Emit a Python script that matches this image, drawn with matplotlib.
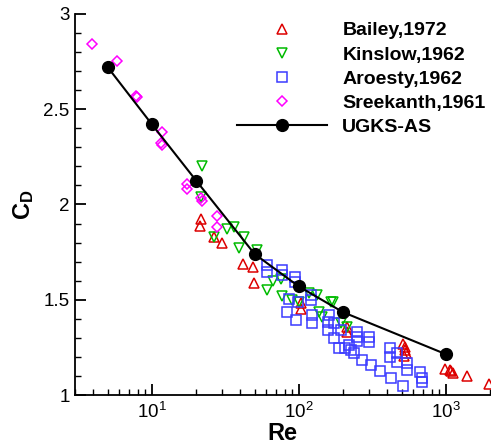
import numpy as np
import matplotlib
matplotlib.use("Agg")
import matplotlib.pyplot as plt
from matplotlib.ticker import LogLocator, MultipleLocator, FormatStrFormatter

plt.rcParams['font.family'] = ['Liberation Sans', 'DejaVu Sans']
plt.rcParams['mathtext.fontset'] = 'custom'
plt.rcParams['mathtext.rm'] = 'Liberation Sans'
plt.rcParams['mathtext.bf'] = 'Liberation Sans:bold'

# ------------------------
# Data
# ------------------------
bailey_re = [21.6, 21.3, 26.3, 30.0, 41.8, 49.0, 49.7, 104, 104, 211, 214,
             515, 525, 530, 533, 520, 984, 1064, 1116, 1090, 1390, 1963]
bailey_cd = [1.925, 1.885, 1.83, 1.80, 1.69, 1.67, 1.59, 1.485, 1.45, 1.36, 1.33,
             1.27, 1.25, 1.235, 1.22, 1.205, 1.135, 1.13, 1.115, 1.125, 1.10, 1.06]

kinslow_re = [21.9, 21.6, 26.5, 32.5, 36.3, 42.5, 39.3, 52.1, 67.0, 61.0, 76.0,
              77.1, 90.3, 100.7, 118, 133.7, 138, 143, 166, 170, 211, 195]
kinslow_cd = [2.20, 2.04, 1.83, 1.87, 1.88, 1.83, 1.77, 1.76, 1.60, 1.55, 1.61,
              1.52, 1.50, 1.49, 1.535, 1.525, 1.435, 1.41, 1.49, 1.49, 1.36, 1.38]

aroesty_re = [61.0, 61.0, 77.1, 77.1, 94.7, 94.7, 86.0, 83.6, 96.2, 97.9, 121.6,
              121.6, 123.6, 123.6, 161.6, 156.7, 174.6, 156.7, 174.6, 194.9, 188.8,
              204.8, 221, 228, 239, 247, 250, 250, 271, 302, 302, 312, 354, 415,
              415, 463, 463, 427, 509, 542, 542, 665, 687, 687]
aroesty_cd = [1.682, 1.646, 1.656, 1.630, 1.619, 1.593, 1.504, 1.436, 1.394, 1.488, 1.525,
              1.499, 1.420, 1.378, 1.420, 1.383, 1.378, 1.341, 1.299, 1.341, 1.247,
              1.247, 1.262, 1.236, 1.220, 1.331, 1.304, 1.283, 1.184, 1.304, 1.278, 1.157, 1.126, 1.247,
              1.199, 1.220, 1.173, 1.089, 1.047, 1.168, 1.131, 1.121, 1.089, 1.068]

sreekanth_re = [3.9, 5.8, 7.8, 7.9, 11.7, 11.6, 11.7, 17.3, 17.3, 21.6, 21.8, 27.6, 27.6]
sreekanth_cd = [2.84, 2.75, 2.57, 2.565, 2.38, 2.32, 2.31, 2.11, 2.08, 2.035, 2.02, 1.94, 1.88]

ugks_re = [5, 10, 20, 50, 100, 200, 1000]
ugks_cd = [2.72, 2.42, 2.125, 1.74, 1.57, 1.435, 1.215]

# ------------------------
# Plot
# ------------------------
fig = plt.figure(figsize=(4.91, 4.46), dpi=100)
ax = fig.add_axes([0.153, 0.114, 0.845, 0.855])

ms_kw = dict(linestyle='none', markerfacecolor='none', markeredgewidth=1.1)
ax.plot(bailey_re, bailey_cd, marker='^', markersize=7, markeredgecolor='#dd0000',
        label='Bailey,1972', **ms_kw)
ax.plot(kinslow_re, kinslow_cd, marker='v', markersize=7, markeredgecolor='#00bb00',
        label='Kinslow,1962', **ms_kw)
ax.plot(aroesty_re, aroesty_cd, marker='s', markersize=6.5, markeredgecolor='#3b3bff',
        label='Aroesty,1962', **ms_kw)
ax.plot(sreekanth_re, sreekanth_cd, marker='D', markersize=5.5, markeredgecolor='#ff00ff',
        label='Sreekanth,1961', **ms_kw)
ax.plot(ugks_re, ugks_cd, color='black', linewidth=1.5, marker='o', markersize=8.5,
        label='UGKS-AS')

ax.set_xscale('log')
ax.set_xlim(3, 2000)
ax.set_ylim(1, 3)

ax.spines['top'].set_visible(False)
ax.spines['right'].set_visible(False)
ax.spines['left'].set_linewidth(1.3)
ax.spines['bottom'].set_linewidth(1.3)

ax.yaxis.set_major_locator(MultipleLocator(0.5))
ax.yaxis.set_minor_locator(MultipleLocator(0.1))
ax.yaxis.set_major_formatter(FormatStrFormatter('%g'))
ax.xaxis.set_major_locator(LogLocator(base=10))
ax.xaxis.set_minor_locator(LogLocator(base=10, subs=np.arange(2, 10)))

ax.tick_params(which='major', direction='in', length=8, width=1.3, labelsize=13.5)
ax.tick_params(axis='y', which='major', pad=4)
ax.tick_params(axis='x', which='major', pad=5)
ax.tick_params(which='minor', direction='in', length=4.5, width=1.0)
ax.tick_params(top=False, right=False, which='both')

ax.set_xlabel('Re', fontsize=17, fontweight='bold', labelpad=0)
ax.set_ylabel(r'$\mathbf{C_D}$', fontsize=17, labelpad=5)

ax.legend(loc='upper left', bbox_to_anchor=(0.358, 1.015), frameon=False,
          prop={'size': 14, 'weight': 'bold'}, handlelength=4.6,
          handletextpad=0.8, labelspacing=0.34, borderpad=0.2)

plt.savefig('out.png', dpi=100)
